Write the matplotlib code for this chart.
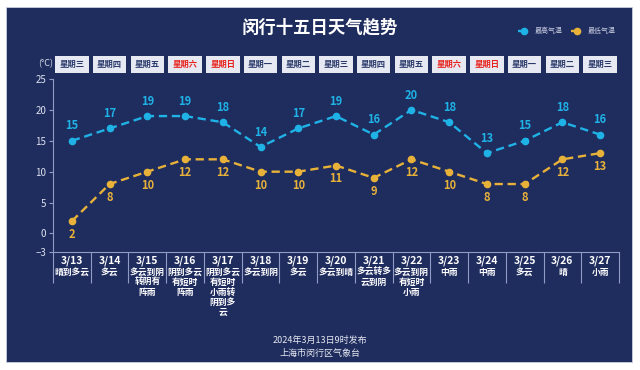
import matplotlib
matplotlib.use("Agg")
import matplotlib.pyplot as plt
from matplotlib.patches import Rectangle

plt.rcParams['font.family'] = ['Noto Sans CJK SC', 'DejaVu Sans']

dates = ["3/13", "3/14", "3/15", "3/16", "3/17", "3/18", "3/19", "3/20",
         "3/21", "3/22", "3/23", "3/24", "3/25", "3/26", "3/27"]
weekdays = ["星期三", "星期四", "星期五", "星期六", "星期日", "星期一", "星期二", "星期三",
            "星期四", "星期五", "星期六", "星期日", "星期一", "星期二", "星期三"]
weather = ["晴到多云", "多云", "多云到阴\n转阴有\n阵雨", "阴到多云\n有短时\n阵雨",
           "阴到多云\n有短时\n小雨转\n阴到多\n云", "多云到阴", "多云", "多云到晴",
           "多云转多\n云到阴", "多云到阴\n有短时\n小雨", "中雨", "中雨", "多云", "晴", "小雨"]
high = [15, 17, 19, 19, 18, 14, 17, 19, 16, 20, 18, 13, 15, 18, 16]
low = [2, 8, 10, 12, 12, 10, 10, 11, 9, 12, 10, 8, 8, 12, 13]
yticks = [-3, 0, 5, 10, 15, 20, 25]

bg = "#1f2c5e"
c_high = "#1fb2e6"
c_low = "#e8b23a"
axis_c = "#8f9cc4"

fig = plt.figure(figsize=(6.4, 3.7), dpi=100, facecolor="white")
fig.add_artist(Rectangle((6/640, 8/370), 626/640, 355/370, transform=fig.transFigure,
                         facecolor=bg, edgecolor="#c8cfe0", linewidth=0.6, zorder=0))

ax = fig.add_axes([53/640, 1-252/370, 566/640, 173/370])
ax.set_facecolor("none")
x = list(range(len(dates)))

lh, = ax.plot(x, high, color=c_high, linewidth=1.7, linestyle=(0, (3.5, 2)),
              marker="o", markersize=4.5, label="最高气温", zorder=3)
ll, = ax.plot(x, low, color=c_low, linewidth=1.7, linestyle=(0, (3.5, 2)),
              marker="o", markersize=4.5, label="最低气温", zorder=3)

for i in x:
    ax.annotate(str(high[i]), (i, high[i]), xytext=(0, 6), textcoords="offset points",
                ha="center", va="bottom", color=c_high, fontsize=8, fontweight="bold")
    ax.annotate(str(low[i]), (i, low[i]), xytext=(0, -5), textcoords="offset points",
                ha="center", va="top", color=c_low, fontsize=8, fontweight="bold")
    wk = "#e8231c" if weekdays[i] in ("星期六", "星期日") else "#2b3a6b"
    ax.text(i, 27.4, weekdays[i], ha="center", va="center", fontsize=6, fontweight="bold",
            color=wk, clip_on=False,
            bbox=dict(boxstyle="square,pad=0.5", facecolor="#e6e9f2", edgecolor="none"))
    ax.annotate(dates[i], (i, -3), xytext=(0, -2.5), textcoords="offset points",
                ha="center", va="top", color="white", fontsize=7.5, fontweight="bold",
                annotation_clip=False)
    ax.annotate(weather[i], (i, -3), xytext=(0, -11.5), textcoords="offset points",
                ha="center", va="top", color="white", fontsize=6.3, fontweight="bold",
                linespacing=1.15, annotation_clip=False)

ax.set_xlim(-0.5, len(dates) - 0.5)
ax.set_ylim(-3, 25)
ax.set_yticks(yticks)
ax.set_xticks([i - 0.5 for i in range(len(dates) + 1)])
ax.set_xticklabels([])
ax.tick_params(axis="x", direction="out", length=22, width=0.8, color=axis_c)
ax.tick_params(axis="y", direction="out", length=3, width=0.8, color=axis_c,
               labelcolor="#dfe3f0", labelsize=7, pad=2)
for s in ["top", "right"]:
    ax.spines[s].set_visible(False)
ax.spines["left"].set_color(axis_c)
ax.spines["bottom"].set_color(axis_c)
ax.spines["left"].set_linewidth(0.8)
ax.spines["bottom"].set_linewidth(0.8)

ax.text(-0.5, 27.4, "(°C)", ha="right", va="center", fontsize=6.5, color="#dfe3f0", clip_on=False)

fig.text(0.5, 1 - 27/370, "闵行十五日天气趋势", ha="center", va="center",
         fontsize=12.5, fontweight="bold", color="white")
fig.legend(handles=[lh, ll], loc="center right", bbox_to_anchor=(622/640, 1 - 31/370),
           ncol=2, frameon=False, fontsize=5, labelcolor="#c8cde0", handlelength=1.8,
           columnspacing=1.2, handletextpad=0.6)
fig.text(0.5, 1 - 340/370, "2024年3月13日9时发布", ha="center", va="center",
         fontsize=6.5, color="#e6e9f2")
fig.text(0.5, 1 - 353/370, "上海市闵行区气象台", ha="center", va="center",
         fontsize=6.5, color="#e6e9f2")

plt.savefig("out.png", dpi=100, facecolor="white")
